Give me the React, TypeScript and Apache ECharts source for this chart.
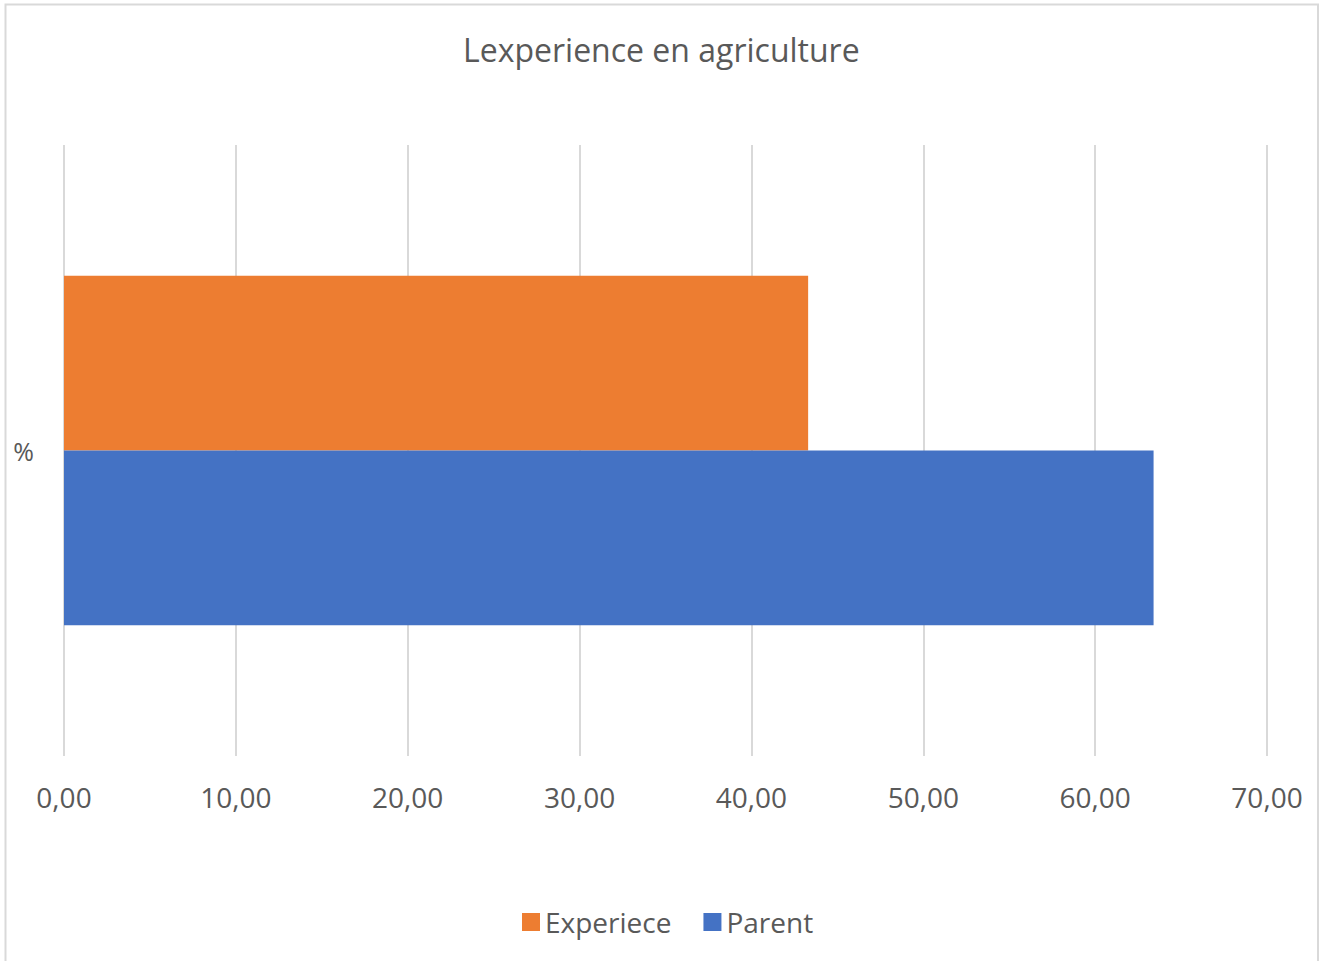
import React, { useEffect, useRef } from "react";
import * as echarts from "echarts";

const categories = ["%"];
const seriesNames = ["Experiece", "Parent"];
const experieceValues = [43.3];
const parentValues = [63.4];
const axisMin = 0;
const axisMax = 70;
const axisStep = 10;

const TEXT = "#595959";
const FONT = "'Open Sans', 'Noto Sans', sans-serif";

export default function App() {
  const ref = useRef<HTMLDivElement>(null);

  useEffect(() => {
    document.body.style.margin = "0";
    const chart = echarts.init(ref.current!, null, { renderer: "svg" });
    chart.setOption({
      animation: false,
      backgroundColor: "#ffffff",
      textStyle: { fontFamily: FONT },
      title: {
        text: "Lexperience en agriculture",
        left: 458,
        top: 28,
        textStyle: { fontSize: 32, fontWeight: "normal", color: TEXT, fontFamily: FONT },
      },
      graphic: [
        {
          type: "rect",
          shape: { x: 5.5, y: 4.5, width: 1312.5, height: 970 },
          style: { fill: "none", stroke: "#d9d9d9", lineWidth: 2 },
          silent: true,
        },
      ],
      legend: {
        data: seriesNames,
        bottom: 20,
        left: 517,
        icon: "rect",
        itemWidth: 18,
        itemHeight: 18,
        itemGap: 32,
        textStyle: { fontSize: 28, color: TEXT, fontFamily: FONT },
      },
      grid: { left: 64, right: 53, top: 145, bottom: 205 },
      xAxis: {
        type: "value",
        min: axisMin,
        max: axisMax,
        interval: axisStep,
        axisLine: { show: false },
        axisTick: { show: false },
        splitLine: { show: true, lineStyle: { color: "#d9d9d9", width: 2 } },
        axisLabel: {
          fontSize: 28,
          color: TEXT,
          margin: 27,
          fontFamily: FONT,
          formatter: (v: number) => v.toFixed(2).replace(".", ","),
        },
      },
      yAxis: {
        type: "category",
        data: categories,
        axisLine: { show: false },
        axisTick: { show: false },
        axisLabel: { fontSize: 25, color: TEXT, margin: 30, fontFamily: FONT },
      },
      series: [
        {
          name: "Experiece",
          type: "bar",
          data: experieceValues,
          itemStyle: { color: "#ed7d31" },
          barGap: "0%",
          barCategoryGap: "42.8%",
        },
        {
          name: "Parent",
          type: "bar",
          data: parentValues,
          itemStyle: { color: "#4472c4" },
          barGap: "0%",
          barCategoryGap: "42.8%",
        },
      ],
    });
    return () => chart.dispose();
  }, []);

  return (
    <div
      ref={ref}
      style={{ position: "absolute", left: 0, top: 0, width: 1320, height: 961 }}
    />
  );
}
